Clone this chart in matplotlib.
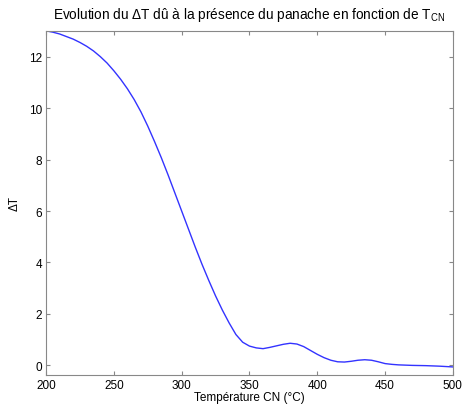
import matplotlib.pyplot as plt
import numpy as np

plt.rcParams['font.family'] = ['Liberation Sans', 'DejaVu Sans']

# Données
temp = [200, 205, 210, 215, 220, 225, 230, 235, 240, 245, 250, 255, 260, 265,
        270, 275, 280, 285, 290, 295, 300, 305, 310, 315, 320, 325, 330, 335,
        340, 345, 350, 355, 360, 365, 370, 375, 380, 385, 390, 395, 400, 405,
        410, 415, 420, 425, 430, 435, 440, 445, 450, 455, 460, 470, 480, 490,
        500]
delta_t = [13.0, 12.95, 12.88, 12.78, 12.68, 12.55, 12.4, 12.22, 12.0, 11.75,
           11.45, 11.12, 10.75, 10.33, 9.85, 9.3, 8.7, 8.07, 7.4, 6.7, 6.0,
           5.3, 4.6, 3.93, 3.3, 2.7, 2.15, 1.65, 1.2, 0.9, 0.75, 0.68, 0.65,
           0.7, 0.76, 0.82, 0.86, 0.83, 0.73, 0.58, 0.43, 0.3, 0.2, 0.14, 0.13,
           0.16, 0.2, 0.22, 0.2, 0.14, 0.07, 0.04, 0.02, 0.0, -0.01, -0.03,
           -0.06]

xticks = np.arange(200, 501, 50)
yticks = np.arange(0, 13, 2)

fig = plt.figure(figsize=(4.65, 4.14), dpi=100)
ax = fig.add_axes([0.099, 0.092, 0.875, 0.831])

ax.plot(temp, delta_t, color='#3333ff', lw=1.0)

ax.set_xlim(200, 500)
ax.set_ylim(-0.37, 13)
ax.set_xticks(xticks)
ax.set_yticks(yticks)

for s in ax.spines.values():
    s.set_color('#888888')
    s.set_linewidth(0.8)
ax.tick_params(direction='in', length=3, color='#888888', labelsize=8.5,
               top=True, right=True, pad=3)

ax.set_xlabel(u'Température CN (°C)', fontsize=8.5, labelpad=0)
ax.set_ylabel(u'ΔT', fontsize=8.5, labelpad=6)
ax.set_title(u'Evolution du ΔT dû à la présence du panache en fonction de T$_{\\mathregular{CN}}$',
             fontsize=9.8, pad=9)

fig.savefig('out.png', dpi=100)
